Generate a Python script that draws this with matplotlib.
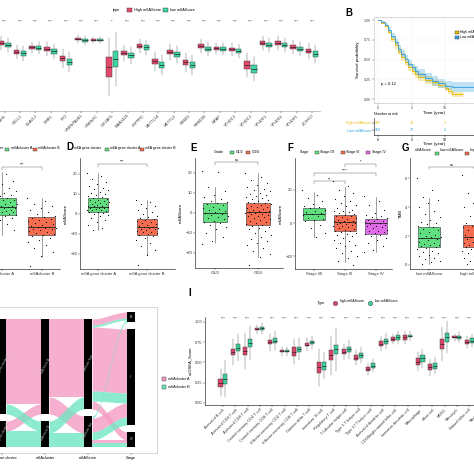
import numpy as np
import matplotlib
matplotlib.use('Agg')
import matplotlib.pyplot as plt
from matplotlib.patches import Rectangle

plt.rcParams['font.family'] = ['Liberation Sans', 'DejaVu Sans']
plt.rcParams['font.size'] = 3
plt.rcParams['axes.linewidth'] = 0.4
plt.rcParams['xtick.major.width'] = 0.3
plt.rcParams['ytick.major.width'] = 0.3
plt.rcParams['xtick.major.size'] = 1.2
plt.rcParams['ytick.major.size'] = 1.2
plt.rcParams['xtick.major.pad'] = 0.8
plt.rcParams['ytick.major.pad'] = 0.8

# ---------------- data ----------------
# A: m6A regulator expression, high vs low m6AScore
genes = ["ALKBH5", "CBLL1", "ELAVL1", "FMR1", "FTO", "HNRNPA2B1", "HNRNPC", "IGF2BP1",
         "KIAA1429", "LRPPRC", "METTL14", "METTL3", "RBM15", "RBM15B", "WTAP", "YTHDC1",
         "YTHDC2", "YTHDF1", "YTHDF2", "YTHDF3", "ZC3H13"]
a_high_med = [68, 59, 64, 62, 53, 72, 71, 44, 58, 65, 50, 59, 49, 65, 63, 62, 46, 68, 68, 64, 60]
a_low_med = [66, 58, 63, 60, 49, 71, 71, 52, 56, 64, 46, 57, 46, 62, 62, 60, 42, 66, 66, 62, 57]
a_high_box = [2, 2, 1.5, 2, 2.5, 1, 1, 10, 2, 2, 2.5, 2, 2.5, 2, 1.5, 1.5, 4, 2, 2, 2, 2]
a_low_box = [2, 2.5, 2, 2.5, 3, 1.5, 1, 8, 2.5, 2.5, 3, 2.5, 3, 2, 2, 2, 4, 2, 2, 2, 3]
a_whisk = [5, 5, 4, 5, 7, 3, 2, 19, 6, 5, 7, 6, 7, 5, 4, 5, 8, 5, 5, 5, 6]
a_sig = ["***"] * 7 + ["*"] + ["***"] * 13

# B: Kaplan-Meier
km_t_high = [0, 0.5, 1, 1.5, 2, 2.5, 3, 3.5, 4, 4.5, 5, 5.5, 6, 7, 8, 9, 10, 10.5, 11, 12.7]
km_s_high = [1.0, 0.97, 0.92, 0.85, 0.76, 0.68, 0.60, 0.53, 0.47, 0.41, 0.36, 0.32, 0.28,
             0.24, 0.21, 0.18, 0.14, 0.10, 0.06, 0.06]
km_hw_high = [0, 0.01, 0.02, 0.03, 0.035, 0.04, 0.045, 0.05, 0.05, 0.05, 0.05, 0.05, 0.05,
              0.05, 0.045, 0.045, 0.04, 0.035, 0.03, 0.03]
km_t_low = [0, 0.5, 1, 1.5, 2, 2.5, 3, 3.5, 4, 4.5, 5, 5.5, 6, 7, 8, 9, 10, 11, 12, 16]
km_s_low = [1.0, 0.98, 0.94, 0.88, 0.80, 0.72, 0.64, 0.57, 0.51, 0.45, 0.40, 0.36, 0.32,
            0.27, 0.23, 0.20, 0.17, 0.15, 0.15, 0.15]
km_hw_low = [0, 0.01, 0.02, 0.03, 0.035, 0.04, 0.045, 0.05, 0.05, 0.05, 0.05, 0.055, 0.055,
             0.06, 0.06, 0.06, 0.06, 0.06, 0.06, 0.06]
risk_times = [0, 5, 10]
risk_high = [187, 33, 3]
risk_low = [160, 37, 4]

# C: m6Acluster
c_labels = ["m6Acluster A", "m6Acluster B"]
c_med = [3.5, -6.5]; c_q1 = [-0.5, -10.5]; c_q3 = [8, -1.5]; c_lo = [-10.5, -21.5]; c_hi = [21, 8]
c_pts_a = [22, 20, 18, 16.5, 15, 14, 13, 12, 11.5, 10.5, 10, 9.5, 9, 8.5, 8, 7.5, 7, 6.8, 6.5, 6,
           5.5, 5.2, 5, 4.5, 4.2, 4, 3.8, 3.5, 3.2, 3, 2.8, 2.5, 2.2, 2, 1.8, 1.5, 1.2, 1, 0.8,
           0.5, 0.2, 0, -0.5, -1, -1.5, -2, -3, -4, -5, -6.5, -8]
c_pts_b = [8, 6.5, 5, 4, 3, 2, 1, 0, -1, -1.5, -2, -2.5, -3, -3.5, -4, -4.5, -5, -5.5, -6, -6.3,
           -6.5, -6.8, -7, -7.3, -7.5, -8, -8.5, -9, -9.5, -10, -10.5, -11, -12, -13, -14,
           -15.5, -17, -19, -21, -26]

# D: m6A gene cluster
d_labels = ["m6A gene cluster A", "m6A gene cluster B"]
d_med = [3.5, -6.5]; d_q1 = [1, -10.5]; d_q3 = [8, -2.5]; d_lo = [-8, -20.5]; d_hi = [20.5, 7]
d_pts_a = [20.5, 19, 17.5, 16, 15, 14, 13, 12.5, 12, 11, 10.5, 10, 9.5, 9, 8.5, 8, 7.5, 7.2, 7,
           6.5, 6.2, 6, 5.5, 5, 4.8, 4.5, 4.2, 4, 3.8, 3.5, 3.2, 3, 2.8, 2.5, 2.2, 2, 1.8, 1.5,
           1.2, 1, 0.5, 0, -0.5, -1, -2, -3, -4, -5.5, -7, -8]
d_pts_b = [7, 6, 5, 4, 3, 2, 1, 0, -1, -1.5, -2, -2.5, -3, -3.5, -4, -4.5, -5, -5.5, -6, -6.3,
           -6.5, -6.8, -7, -7.3, -7.6, -8, -8.4, -8.8, -9.2, -9.6, -10, -10.5, -11, -12, -13,
           -14.5, -16, -18, -20.5, -25.5]

# E: Grade
e_labels = ["G1/2", "G3/4"]
e_med = [0, 0.5]; e_q1 = [-4.5, -6]; e_q3 = [5, 5]; e_lo = [-15, -22]; e_hi = [13, 20]
e_pts_a = [21, 20.5, 13, 11, 9, 8, 7, 6, 5.5, 5, 4.5, 4, 3, 2.5, 2, 1.5, 1, 0.5, 0, -0.5, -1,
           -1.5, -2, -2.5, -3, -4, -4.5, -5, -6, -7, -8, -10, -12, -14, -15.5]
e_pts_b = [20, 18, 16.5, 15, 14, 13, 12, 11.5, 11, 10, 9.5, 9, 8.5, 8, 7.5, 7, 6.5, 6, 5.5, 5.2,
           5, 4.5, 4, 3.5, 3.2, 3, 2.5, 2, 1.5, 1.2, 1, 0.7, 0.5, 0.2, 0, -0.3, -0.6, -1, -1.3,
           -1.6, -2, -2.5, -3, -3.5, -4, -4.5, -5, -5.5, -6, -6.5, -7, -7.5, -8, -9, -10, -11,
           -12, -13, -14, -15, -16, -17.5, -19, -20.5, -22, -26]

# F: Stage
f_labels = ["Stage I/II", "Stage III", "Stage IV"]
f_med = [5.4, 0.6, 0]; f_q1 = [1.8, -4.8, -6.6]; f_q3 = [9, 4.8, 2.4]
f_lo = [-8.4, -23.4, -17.4]; f_hi = [18.6, 21.6, 15.6]
f_pts_1 = [20, 17, 15, 13, 11.5, 10.5, 9.5, 9, 8, 7, 6.5, 6, 5.5, 5, 4, 3, 2.5, 2, 1, -1, -3,
           -6, -8.5]
f_pts_2 = [25, 22, 20, 18, 16, 14.5, 13, 12, 11, 10, 9, 8, 7.5, 7, 6.5, 6, 5.5, 5, 4.5, 4, 3.5,
           3, 2.5, 2, 1.5, 1.2, 1, 0.6, 0.3, 0, -0.3, -0.6, -1, -1.5, -2, -2.5, -3, -3.5, -4,
           -4.5, -5, -5.5, -6, -6.5, -7, -8, -9, -10, -11, -12, -13, -14, -15, -16.5, -18,
           -19.5, -21, -23, -25, -30]
f_pts_3 = [16, 13, 11, 8, 6, 5, 4, 3.5, 3, 2.5, 2, 1.5, 1, 0.5, 0, -0.5, -1, -1.5, -2, -2.5, -3,
           -4, -4.5, -5, -5.5, -6, -6.5, -7, -8, -9, -10, -12, -14, -16, -17.5]

# G: TMB
g_labels = ["low m6AScore", "high m6AScore"]
g_med = [1.86, 1.9]; g_q1 = [1.24, 1.24]; g_q3 = [2.6, 2.75]; g_lo = [0.07, 0.05]; g_hi = [4.6, 4.9]
g_pts_a = [6.0, 5.2, 4.7, 4.5, 4.3, 4.0, 3.7, 3.5, 3.3, 3.1, 3.0, 2.9, 2.8, 2.7, 2.6, 2.5, 2.4,
           2.3, 2.2, 2.1, 2.0, 1.95, 1.9, 1.85, 1.8, 1.7, 1.6, 1.5, 1.45, 1.4, 1.35, 1.3, 1.25,
           1.2, 1.1, 1.0, 0.9, 0.8, 0.7, 0.6, 0.5, 0.4, 0.3, 0.2, 0.1]
g_pts_b = [6.2, 5.5, 5.0, 4.6, 4.3, 4.0, 3.7, 3.4, 3.2, 3.0, 2.9, 2.8, 2.7, 2.6, 2.5, 2.4, 2.3,
           2.2, 2.1, 2.0, 1.95, 1.9, 1.85, 1.8, 1.7, 1.6, 1.5, 1.45, 1.4, 1.35, 1.3, 1.25, 1.2,
           1.1, 1.0, 0.9, 0.8, 0.7, 0.6, 0.5, 0.4, 0.3, 0.2, 0.1, 0.05]

# H: alluvial
h_names = ["m6A gene cluster", "m6Acluster", "m6AScore", "Stage"]
h_levels = [["A", "B"], ["A", "B"], ["high", "low"], ["I/II", "III", "IV"]]
h_gene = ["A", "A", "A", "A", "A", "B", "B", "A", "A", "A", "B", "B", "B", "B"]
h_clu = ["A", "A", "A", "A", "A", "A", "A", "B", "B", "B", "B", "B", "B", "B"]
h_score = ["high", "high", "high", "low", "low", "high", "low", "high", "high", "low", "high",
           "low", "low", "low"]
h_stage = ["I/II", "III", "IV", "III", "IV", "III", "III", "I/II", "III", "III", "III", "I/II",
           "III", "IV"]
h_n = [6, 58, 8, 10, 3, 6, 4, 2, 5, 3, 5, 2, 5, 4]

# I: ssGSEA immune cells
cells = ["Activated B cell", "Activated CD4 T cell", "Activated CD8 T cell",
         "Central memory CD4 T cell", "Central memory CD8 T cell", "Effector memeory CD4 T cell",
         "Effector memeory CD8 T cell", "Gamma delta T cell", "Immature  B cell",
         "Regulatory T cell", "T follicular helper cell", "Type 1 T helper cell",
         "Type 17 T helper cell", "Activated dendritic cell", "CD56bright natural killer cell",
         "Immature dendritic cell", "Macrophage", "Mast cell", "MDSC", "Monocyte",
         "Natural killer cell", "Neutrophil"]
i_high_med = [0.25, 0.63, 0.64, 0.91, 0.75, 0.64, 0.63, 0.72, 0.44, 0.59, 0.63, 0.56, 0.42,
              0.73, 0.79, 0.81, 0.51, 0.44, 0.73, 0.81, 0.75, 0.70]
i_low_med = [0.30, 0.68, 0.74, 0.92, 0.77, 0.64, 0.66, 0.75, 0.46, 0.66, 0.66, 0.59, 0.46,
             0.76, 0.81, 0.82, 0.55, 0.46, 0.81, 0.81, 0.77, 0.72]
i_high_box = [0.05, 0.04, 0.05, 0.015, 0.025, 0.015, 0.055, 0.02, 0.065, 0.06, 0.03, 0.03,
              0.025, 0.03, 0.02, 0.03, 0.04, 0.035, 0.06, 0.012, 0.025, 0.03]
i_low_box = [0.06, 0.045, 0.045, 0.02, 0.025, 0.015, 0.035, 0.02, 0.05, 0.06, 0.035, 0.03,
             0.03, 0.027, 0.03, 0.012, 0.04, 0.035, 0.055, 0.02, 0.025, 0.03]
i_high_whisk = [0.12, 0.12, 0.17, 0.04, 0.08, 0.04, 0.1, 0.06, 0.16, 0.18, 0.07, 0.06, 0.05,
                0.06, 0.04, 0.05, 0.08, 0.07, 0.15, 0.03, 0.05, 0.06]
i_low_whisk = [0.17, 0.12, 0.16, 0.05, 0.09, 0.04, 0.1, 0.06, 0.12, 0.2, 0.08, 0.07, 0.05,
               0.07, 0.05, 0.05, 0.08, 0.07, 0.14, 0.04, 0.05, 0.06]

# ---------------- figure ----------------
W = 474
fig = plt.figure(figsize=(4.74, 4.74), dpi=100)


def pax(l, t, w, h):
    return fig.add_axes([l / W, 1 - (t + h) / W, w / W, h / W])


ov = fig.add_axes([0, 0, 1, 1], zorder=20)
ov.set_xlim(0, W); ov.set_ylim(W, 0); ov.axis('off'); ov.patch.set_alpha(0)


def key(x, y, color, w=5, h=3.5):
    ov.add_patch(Rectangle((x - w / 2, y - h / 2), w, h, facecolor=color, edgecolor='#333333', lw=0.3))


def txt(x, y, s, **kw):
    kw.setdefault('va', 'center')
    kw.setdefault('fontsize', 3)
    ov.text(x, y, s, **kw)


def box(ax, pos, med, q1, q3, lo, hi, width, color, lw=0.4):
    st = [dict(med=med, q1=q1, q3=q3, whislo=lo, whishi=hi, fliers=[])]
    ax.bxp(st, positions=[pos], widths=width, patch_artist=True, showcaps=False,
           manage_ticks=False,
           boxprops=dict(facecolor=color, edgecolor='#333333', linewidth=lw),
           medianprops=dict(color='#222222', linewidth=lw + 0.2),
           whiskerprops=dict(color='#555555', linewidth=lw))


def bracket(ax, x1, x2, y, h, label):
    ax.plot([x1, x1, x2, x2], [y - h, y, y, y - h], lw=0.3, color='#555555', clip_on=False)
    ax.text((x1 + x2) / 2, y, label, ha='center', va='bottom', fontsize=2.8, clip_on=False)


RED_A = '#E2496C'
GRN_A = '#3ED6A6'

# ---- A ----
axA = pax(-15, 15, 335, 96)
for i in range(len(genes)):
    box(axA, i - 0.22, a_high_med[i], a_high_med[i] - a_high_box[i], a_high_med[i] + a_high_box[i],
        a_high_med[i] - a_high_box[i] - a_whisk[i], a_high_med[i] + a_high_box[i] + a_whisk[i],
        0.36, RED_A, lw=0.3)
    box(axA, i + 0.22, a_low_med[i], a_low_med[i] - a_low_box[i], a_low_med[i] + a_low_box[i],
        a_low_med[i] - a_low_box[i] - a_whisk[i], a_low_med[i] + a_low_box[i] + a_whisk[i],
        0.36, GRN_A, lw=0.3)
    axA.text(i, 89, a_sig[i], ha='center', va='center', fontsize=3, color='#444444')
axA.set_xlim(-1.27, 20.52); axA.set_ylim(0, 96)
for s in ['left', 'top', 'right']:
    axA.spines[s].set_visible(False)
axA.spines['bottom'].set_color('#999999')
axA.set_yticks([])
axA.set_xticks(range(len(genes)))
axA.set_xticklabels(genes, rotation=45, ha='right', rotation_mode='anchor', fontsize=2.8, color='#333333')
txt(113, 10, "type", fontsize=2.8)
key(130, 10, RED_A); txt(134, 10, "High m6AScore", fontsize=2.8)
key(166, 10, GRN_A); txt(170, 10, "low m6AScore", fontsize=2.8)

# ---- B ----
KM_Y = '#E7B800'; KM_B = '#2E9FDF'
axB = pax(374, 17, 120, 86)
for t, s, hw, c in [(km_t_high, km_s_high, km_hw_high, KM_Y), (km_t_low, km_s_low, km_hw_low, KM_B)]:
    s = np.array(s); hw = np.array(hw)
    axB.fill_between(t, s - hw, s + hw, step='post', color=c, alpha=0.3, lw=0)
    axB.step(t, s, where='post', color=c, lw=0.6)
axB.set_xlim(-0.6, 17.3); axB.set_ylim(-0.05, 1.04)
axB.set_xticks([0, 5, 10]); axB.set_yticks([0, 0.25, 0.5, 0.75, 1.0])
axB.set_yticklabels(["0.00", "0.25", "0.50", "0.75", "1.00"])
axB.grid(color='#EEEEEE', lw=0.3)
for s in axB.spines.values():
    s.set_color('#BBBBBB')
axB.tick_params(labelsize=2.6, colors='#444444')
axB.set_ylabel("Survival probability", fontsize=3.2, labelpad=3)
axB.set_xlabel("Time (year)", fontsize=3.2, labelpad=1)
axB.text(0.4, 0.19, "p = 0.12", fontsize=3, va='center')
txt(345, 13, "B", fontsize=7, fontweight='bold')
key(457, 32, KM_Y, 3.5, 3); txt(460, 32, "High m6AScore", fontsize=2.4)
key(457, 37, KM_B, 3.5, 3); txt(460, 37, "Low m6AScore", fontsize=2.4)

axR = pax(374, 118, 120, 17)
for j, t in enumerate(risk_times):
    axR.text(t, 1, str(risk_high[j]), color=KM_Y, fontsize=2.6, ha='center', va='center')
    axR.text(t, 0, str(risk_low[j]), color=KM_B, fontsize=2.6, ha='center', va='center')
axR.set_xlim(-0.6, 17.3); axR.set_ylim(-0.6, 1.6)
axR.set_xticks([0, 5, 10]); axR.set_yticks([0, 1])
axR.set_yticklabels(["Low m6AScore", "High m6AScore"], fontsize=2.4)
for lab, c in zip(axR.get_yticklabels(), [KM_B, KM_Y]):
    lab.set_color(c)
for s in ['top', 'right']:
    axR.spines[s].set_visible(False)
axR.tick_params(labelsize=2.6)
axR.set_xlabel("Time (year)", fontsize=3.2, labelpad=0.5)
txt(374, 114, "Number at risk", fontsize=2.6)

# ---- row 2 panels ----
G2 = '#5FDF80'; R2 = '#F46D50'; P2 = '#E26BEA'


def group_panel(rect, xlim, ylim, pts, meds, q1s, q3s, los, his, colors, width, labels, yticks, ylabel):
    ax = pax(*rect)
    for k in range(len(pts)):
        box(ax, k + 1, meds[k], q1s[k], q3s[k], los[k], his[k], width, colors[k])
        v = np.array(pts[k])
        jit = ((np.arange(len(v)) * 0.618034) % 1 - 0.5) * width * 1.1
        ax.scatter(k + 1 + jit, v, s=0.7, color='black', lw=0, zorder=5)
    ax.set_xlim(*xlim); ax.set_ylim(*ylim)
    ax.set_xticks(range(1, len(pts) + 1)); ax.set_xticklabels(labels)
    ax.set_yticks(yticks)
    for s in ['top', 'right']:
        ax.spines[s].set_visible(False)
    ax.tick_params(labelsize=3, colors='#333333')
    ax.set_ylabel(ylabel, fontsize=3.2, labelpad=1.5)
    return ax


axC = group_panel((-40, 158, 100, 111), (-0.076, 2.46), (-27.5, 28), [c_pts_a, c_pts_b],
                  c_med, c_q1, c_q3, c_lo, c_hi, [G2, R2], 0.68, c_labels, [-20, -10, 0, 10, 20], "")
bracket(axC, 1, 2, 23.5, 1.5, "***")
txt(4, 148, "m6Acluster", ha='right', fontsize=2.6)
key(7, 149, G2, 4, 3); txt(11, 148, "m6Acluster A", fontsize=2.6)
key(35, 149, R2, 4, 3); txt(38, 148, "m6Acluster B", fontsize=2.6)

axD = group_panel((80, 158, 95, 111), (0.63, 2.57), (-27.5, 28), [d_pts_a, d_pts_b],
                  d_med, d_q1, d_q3, d_lo, d_hi, [G2, R2], 0.42, d_labels, [-20, -10, 0, 10, 20], "m6AScore")
bracket(axD, 1, 2, 25, 1.5, "***")
txt(66, 147, "D", fontsize=7, fontweight='bold')
txt(74, 148, "m6A gene cluster", fontsize=2.5)
key(107, 149, G2, 4, 3); txt(110, 148, "m6A gene cluster A", fontsize=2.5)
key(142, 149, R2, 4, 3); txt(145, 148, "m6A gene cluster B", fontsize=2.5)

axE = group_panel((195, 158, 88, 110), (0.53, 2.58), (-27.5, 27.5), [e_pts_a, e_pts_b],
                  e_med, e_q1, e_q3, e_lo, e_hi, [G2, R2], 0.56, e_labels, [-20, -10, 0, 10, 20], "m6AScore")
bracket(axE, 1, 2, 25.5, 1.5, "ns")
txt(190, 148, "E", fontsize=7, fontweight='bold')
txt(214, 152, "Grade", fontsize=2.6)
key(232, 152, G2, 4, 3); txt(236, 152, "G1/2", fontsize=2.6)
key(248, 152, R2, 4, 3); txt(252, 152, "G3/4", fontsize=2.6)

axF = group_panel((295, 158, 97, 111), (0.39, 3.52), (-27.5, 39), [f_pts_1, f_pts_2, f_pts_3],
                  f_med, f_q1, f_q3, f_lo, f_hi, [G2, R2, P2], 0.71, f_labels, [-20, 0, 20], "m6AScore")
bracket(axF, 1, 2, 25, 1.5, "**")
bracket(axF, 1, 3, 30, 1.5, "****")
bracket(axF, 2, 3, 35.3, 1.5, "*")
txt(287, 148, "F", fontsize=7, fontweight='bold')
txt(300, 152, "Stage", fontsize=2.6)
key(317, 152, G2, 4, 3); txt(320, 152, "Stage I/II", fontsize=2.6)
key(343, 152, R2, 4, 3); txt(346, 152, "Stage III", fontsize=2.6)
key(368, 152, P2, 4, 3); txt(372, 152, "Stage IV", fontsize=2.6)

axG = group_panel((410, 158, 80, 111), (0.578, 2.356), (-0.28, 7.4), [g_pts_a, g_pts_b],
                  g_med, g_q1, g_q3, g_lo, g_hi, [G2, R2], 0.49, g_labels, [0, 2, 4, 6], "TMB")
bracket(axG, 1, 2, 6.76, 0.15, "ns")
txt(402, 148, "G", fontsize=7, fontweight='bold')
txt(415, 150, "m6AScore", fontsize=2.6)
key(437, 153, G2, 4, 3); txt(440, 150, "low m6AScore", fontsize=2.6)
key(467, 153, R2, 4, 3); txt(470, 150, "high m6AScore", fontsize=2.6)

# ---- H: alluvial ----
PINK = '#F59BC4'; TEAL = '#6FE6C2'
clu_colors = {"A": PINK, "B": TEAL}
axH = pax(-5, 307, 162, 146)
h_cols = [h_gene, h_clu, h_score, h_stage]
N = sum(h_n)
gap = 7
bw = 0.19
ranges = []
for k, levels in enumerate(h_levels):
    cur = N + gap * (len(levels) - 1)
    d = {}
    for lev in levels:
        sz = sum(n for v, n in zip(h_cols[k], h_n) if v == lev)
        d[lev] = (cur, cur - sz)
        cur = cur - sz - gap
    ranges.append(d)

clusters = ["A", "B"]
tt = np.linspace(0, 1, 50)
ss = 3 * tt ** 2 - 2 * tt ** 3
for k in range(3):
    agg = {}
    for r in range(len(h_n)):
        kk = (h_cols[k][r], h_cols[k + 1][r], h_clu[r])
        agg[kk] = agg.get(kk, 0) + h_n[r]
    lpos, rpos = {}, {}
    for lev in h_levels[k]:
        items = sorted([q for q in agg if q[0] == lev],
                       key=lambda q: (h_levels[k + 1].index(q[1]), clusters.index(q[2])))
        cur = ranges[k][lev][0]
        for q in items:
            lpos[q] = (cur, cur - agg[q]); cur -= agg[q]
    for lev in h_levels[k + 1]:
        items = sorted([q for q in agg if q[1] == lev],
                       key=lambda q: (h_levels[k].index(q[0]), clusters.index(q[2])))
        cur = ranges[k + 1][lev][0]
        for q in items:
            rpos[q] = (cur, cur - agg[q]); cur -= agg[q]
    x0, x1 = k + 1 + bw / 2, k + 2 - bw / 2
    xs = x0 + (x1 - x0) * tt
    for q in agg:
        top = lpos[q][0] + (rpos[q][0] - lpos[q][0]) * ss
        bot = lpos[q][1] + (rpos[q][1] - lpos[q][1]) * ss
        axH.fill_between(xs, bot, top, color=clu_colors[q[2]], alpha=0.8, lw=0)

for k, levels in enumerate(h_levels):
    for lev in levels:
        t0, b0 = ranges[k][lev]
        axH.add_patch(Rectangle((k + 1 - bw / 2, b0), bw, t0 - b0, facecolor='black', lw=0, zorder=3))
        if k < 3:
            lab = h_names[k] + " " + lev
            axH.text(k + 1, (t0 + b0) / 2, lab, rotation=62, ha='center', va='center',
                     fontsize=2.2, color='#BBBBBB', zorder=4)
        else:
            axH.text(k + 1, (t0 + b0) / 2, lev, ha='center', va='center', fontsize=2.2,
                     color='#DDDDDD', zorder=4)
axH.set_xlim(0.837, 4.6); axH.set_ylim(-6, 140)
axH.set_xticks([1, 2, 3, 4]); axH.set_xticklabels(h_names, fontsize=2.8)
axH.set_yticks([])
for s in axH.spines.values():
    s.set_color('#BBBBBB')
key(164, 379, PINK, 4, 4); txt(168, 379, "m6Acluster A", fontsize=2.6)
key(164, 387, TEAL, 4, 4); txt(168, 387, "m6Acluster B", fontsize=2.6)

# ---- I ----
RED_I = '#D9486B'; GRN_I = '#3FCF9C'
axI = pax(205, 317, 300, 88)
for i in range(len(cells)):
    hm, lm = i_high_med[i], i_low_med[i]
    box(axI, i - 0.2, hm, hm - i_high_box[i], hm + i_high_box[i],
        hm - i_high_box[i] - i_high_whisk[i], hm + i_high_box[i] + i_high_whisk[i], 0.33, RED_I, lw=0.3)
    box(axI, i + 0.2, lm, lm - i_low_box[i], lm + i_low_box[i],
        lm - i_low_box[i] - i_low_whisk[i], lm + i_low_box[i] + i_low_whisk[i], 0.33, GRN_I, lw=0.3)
    axI.text(i, 1.035, "***", ha='center', va='center', fontsize=3, color='#444444')
axI.set_xlim(-1.46, 22.9); axI.set_ylim(-0.025, 1.06)
axI.set_yticks([0, 0.25, 0.5, 0.75, 1.0])
axI.set_yticklabels(["0.00", "0.25", "0.50", "0.75", "1.00"])
axI.set_xticks(range(len(cells)))
axI.set_xticklabels(cells, rotation=45, ha='right', rotation_mode='anchor', fontsize=2.8)
for s in ['top', 'right']:
    axI.spines[s].set_visible(False)
axI.tick_params(labelsize=2.8, colors='#333333')
axI.set_ylabel("ssGSEA_Score", fontsize=3, labelpad=1.5)
txt(188, 293, "I", fontsize=7, fontweight='bold')
txt(317, 303, "Type", fontsize=2.8)
ov.plot([335], [303], marker='o', ms=3.2, mfc=RED_I, mec='#333333', mew=0.3)
txt(340, 301, "high-m6AScore", fontsize=2.6)
ov.plot([370], [303], marker='o', ms=3.2, mfc=GRN_I, mec='#333333', mew=0.3)
txt(375, 301, "low-m6AScore", fontsize=2.6)

fig.savefig("out.png", dpi=100)
